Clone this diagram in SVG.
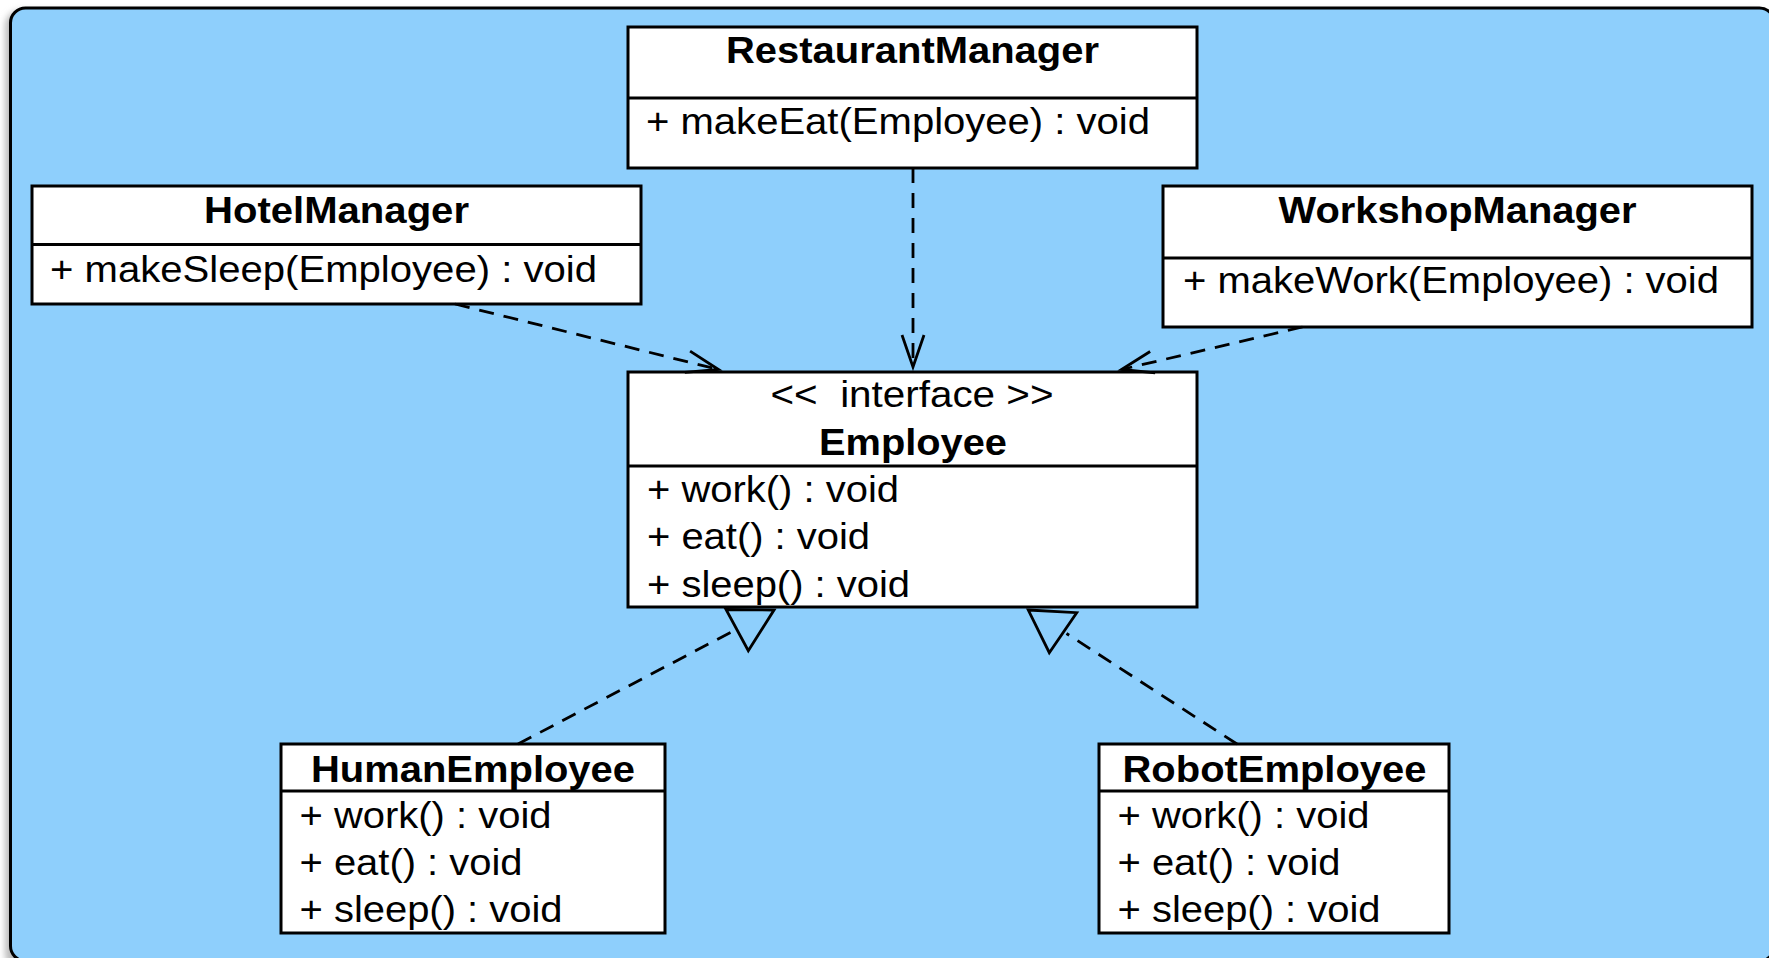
<svg xmlns="http://www.w3.org/2000/svg" width="1769" height="958" viewBox="0 0 1769 958">
  <defs>
    <style>
      .frame { fill: #8ecffc; stroke: #000; stroke-width: 3; }
      .box { fill: #fff; stroke: #000; stroke-width: 3; }
      .div { stroke: #000; stroke-width: 3; }
      text { font-family: "Liberation Sans", Arial, Helvetica, sans-serif; font-size: 36px; fill: #000; }
      .title { font-weight: bold; text-anchor: middle; }
      .center { text-anchor: middle; }
      .dash { fill: none; stroke: #000; stroke-width: 2.8; stroke-dasharray: 15 10; }
      .tri { fill: none; stroke: #000; stroke-width: 2.8; stroke-linejoin: miter; }
    </style>
    <marker id="open" markerUnits="userSpaceOnUse" markerWidth="40" markerHeight="30" viewBox="-36 -15 40 30" refX="0" refY="0" orient="auto" overflow="visible">
      <path d="M-32,-11 L0,0 L-32,11" fill="none" stroke="#000" stroke-width="2.8" stroke-dasharray="none"/>
    </marker>
    <filter id="shadow" x="-5%" y="-5%" width="110%" height="110%">
      <feGaussianBlur stdDeviation="3"/>
    </filter>
  </defs>

  <rect x="0" y="0" width="1769" height="958" fill="#fff"/>
  <rect x="5" y="10" width="1764" height="960" rx="16" fill="#bbb" filter="url(#shadow)"/>
  <rect class="frame" x="10.5" y="8" width="1764" height="953" rx="15"/>

  <g id="RestaurantManager">
    <rect class="box" x="628" y="27" width="569" height="141"/>
    <line class="div" x1="628" y1="98" x2="1197" y2="98"/>
    <text class="title" x="912.5" y="63" textLength="373" lengthAdjust="spacingAndGlyphs">RestaurantManager</text>
    <text x="646" y="134" textLength="504" lengthAdjust="spacingAndGlyphs">+ makeEat(Employee) : void</text>
  </g>

  <g id="HotelManager">
    <rect class="box" x="32" y="186" width="609" height="118"/>
    <line class="div" x1="32" y1="244.5" x2="641" y2="244.5"/>
    <text class="title" x="336.5" y="223" textLength="265" lengthAdjust="spacingAndGlyphs">HotelManager</text>
    <text x="50" y="282" textLength="547" lengthAdjust="spacingAndGlyphs">+ makeSleep(Employee) : void</text>
  </g>

  <g id="WorkshopManager">
    <rect class="box" x="1163" y="186" width="589" height="141"/>
    <line class="div" x1="1163" y1="258" x2="1752" y2="258"/>
    <text class="title" x="1457.5" y="223" textLength="358" lengthAdjust="spacingAndGlyphs">WorkshopManager</text>
    <text x="1183" y="293" textLength="536" lengthAdjust="spacingAndGlyphs">+ makeWork(Employee) : void</text>
  </g>

  <g id="Employee">
    <rect class="box" x="628" y="372" width="569" height="235"/>
    <line class="div" x1="628" y1="466" x2="1197" y2="466"/>
    <text class="center" x="912" y="407" textLength="283" lengthAdjust="spacingAndGlyphs">&lt;&lt;&#160; interface &gt;&gt;</text>
    <text class="title" x="913" y="455" textLength="188" lengthAdjust="spacingAndGlyphs">Employee</text>
    <text x="647" y="502" textLength="252" lengthAdjust="spacingAndGlyphs">+ work() : void</text>
    <text x="647" y="549" textLength="223" lengthAdjust="spacingAndGlyphs">+ eat() : void</text>
    <text x="647" y="597" textLength="263" lengthAdjust="spacingAndGlyphs">+ sleep() : void</text>
  </g>

  <g id="HumanEmployee">
    <rect class="box" x="281" y="744" width="384" height="189"/>
    <line class="div" x1="281" y1="791" x2="665" y2="791"/>
    <text class="title" x="473" y="782" textLength="324" lengthAdjust="spacingAndGlyphs">HumanEmployee</text>
    <text x="299.5" y="828" textLength="252" lengthAdjust="spacingAndGlyphs">+ work() : void</text>
    <text x="299.5" y="875" textLength="223" lengthAdjust="spacingAndGlyphs">+ eat() : void</text>
    <text x="299.5" y="922" textLength="263" lengthAdjust="spacingAndGlyphs">+ sleep() : void</text>
  </g>

  <g id="RobotEmployee">
    <rect class="box" x="1099" y="744" width="350" height="189"/>
    <line class="div" x1="1099" y1="791" x2="1449" y2="791"/>
    <text class="title" x="1274.5" y="782" textLength="304" lengthAdjust="spacingAndGlyphs">RobotEmployee</text>
    <text x="1117.5" y="828" textLength="252" lengthAdjust="spacingAndGlyphs">+ work() : void</text>
    <text x="1117.5" y="875" textLength="223" lengthAdjust="spacingAndGlyphs">+ eat() : void</text>
    <text x="1117.5" y="922" textLength="263" lengthAdjust="spacingAndGlyphs">+ sleep() : void</text>
  </g>

  <g id="connectors">
    <path class="dash" d="M455,304 L718.5,369.5" marker-end="url(#open)"/>
    <path class="dash" d="M913,168 L913,367" marker-end="url(#open)"/>
    <path class="dash" d="M1302.5,327 L1121.5,369.5" marker-end="url(#open)"/>
    <path class="dash" d="M518,744 L737,629"/>
    <polygon class="tri" points="726,609.5 774,610 748.3,650.7"/>
    <path class="dash" d="M1237,744 L1066.5,633.5"/>
    <polygon class="tri" points="1028.3,610 1076.7,612.7 1049.3,652.7"/>
  </g>
</svg>
